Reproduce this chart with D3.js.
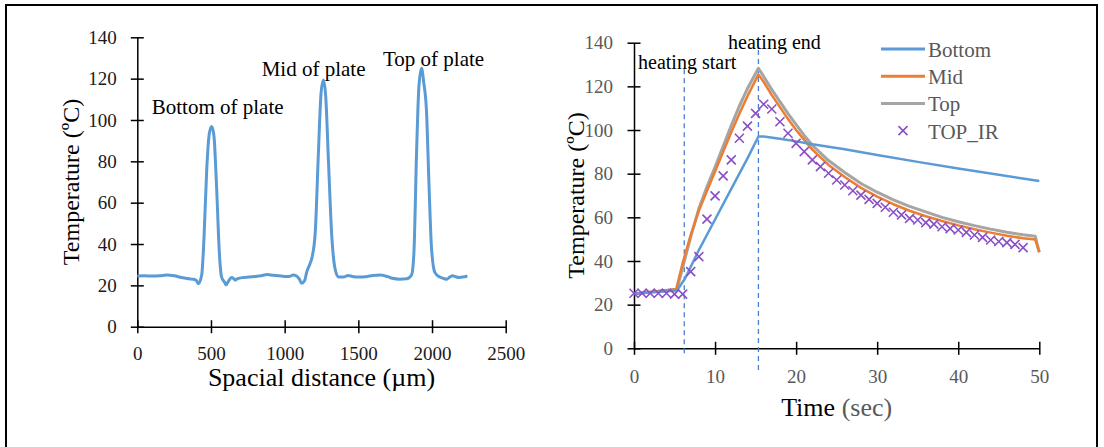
<!DOCTYPE html>
<html>
<head>
<meta charset="utf-8">
<script src="https://cdn.jsdelivr.net/npm/d3@7"></script>
<style>
  html, body { margin: 0; padding: 0; background: #fff; }
  svg { display: block; font-family: "Liberation Serif", "Times New Roman", serif; }
</style>
</head>
<body>
<svg id="chart" width="1104" height="447"></svg>
<script>
// ---- left chart: temperature profile along the plate ----
const profileDist = [0, 50, 100, 150, 200, 250, 300, 350, 380, 400, 414, 437, 453, 471, 489, 505, 520, 538, 557, 572, 590, 602, 620, 640, 655, 665, 680, 720, 760, 800, 850, 880, 920, 960, 1000, 1030, 1058, 1080, 1100, 1115, 1135, 1150, 1172, 1184, 1207, 1229, 1247, 1263, 1279, 1297, 1320, 1342, 1365, 1400, 1430, 1460, 1500, 1550, 1600, 1650, 1700, 1730, 1780, 1830, 1861, 1877, 1895, 1911, 1929, 1944, 1962, 1980, 1996, 2019, 2053, 2080, 2100, 2120, 2140, 2160, 2180, 2210, 2240];
const profileTemp = [24.5, 24.6, 24.5, 24.6, 25.0, 24.6, 23.8, 23.2, 23.0, 22.4, 20.8, 25, 43.5, 75.8, 93.6, 96.8, 92.4, 67.7, 35.5, 24, 21.8, 20.3, 22.2, 23.8, 23.2, 22.5, 23.2, 23.8, 24.0, 24.3, 24.8, 25.2, 24.9, 24.6, 24.3, 24.3, 25.0, 24.5, 23.0, 21.0, 22.2, 26.5, 30.5, 33, 45, 84, 113, 119.3, 111, 80.6, 43.5, 28, 24, 24.0, 24.8, 24.3, 24.0, 24.2, 24.8, 25.0, 24.2, 23.4, 23.0, 23.2, 25, 35.5, 84, 116, 125, 118, 105, 67.7, 38.7, 26.3, 24, 23.3, 23.0, 24.0, 24.6, 24.2, 23.8, 24.0, 24.5];
const leftXTicks = [0, 500, 1000, 1500, 2000, 2500];
const leftYTicks = [0, 20, 40, 60, 80, 100, 120, 140];
const peakLabels = [
  { text: 'Bottom of plate', dist: 98, temp: 102.9 },
  { text: 'Mid of plate', dist: 844, temp: 121.3 },
  { text: 'Top of plate', dist: 1667, temp: 126.1 }
];

// ---- right chart: temperature vs time ----
const bottomSeries = [[0, 25], [5.3, 26.5], [6.3, 32], [8, 45], [10, 59], [12, 73], [14, 87], [15.35, 97], [16, 97], [18, 96], [20, 94.8], [22, 93.5], [26, 91.2], [30, 88.6], [35, 85.4], [40, 82.4], [45, 79.5], [50, 76.6]];
const midSeries = [[0, 25], [5.2, 27], [6, 39], [7, 52], [8, 63], [9, 72], [10, 81], [11, 90], [12, 99], [13, 107.5], [14, 115.5], [15.35, 125.5], [16, 122], [17, 116], [18, 110.5], [19, 105], [20, 100], [21, 95.5], [22, 91], [24, 84], [26, 78.5], [28, 73.5], [30, 69.5], [32, 66], [34, 63], [36, 60.5], [38, 58.3], [40, 56.3], [42, 54.5], [44, 53], [46, 51.6], [48, 50.4], [49.5, 49.8], [50, 44]];
const topSeries = [[0, 25], [5.3, 27], [6, 37], [7, 51], [8, 64], [9, 74], [10, 83], [11, 92.5], [12, 102], [13, 111], [14, 119], [15.35, 128.3], [16, 124.5], [17, 118.5], [18, 113], [19, 107.5], [20, 102.5], [21, 97.5], [22, 93], [24, 86], [26, 80.5], [28, 75.5], [30, 71.5], [32, 68], [34, 65], [36, 62.5], [38, 60], [40, 58], [42, 56.2], [44, 54.6], [46, 53.2], [48, 52], [49.5, 51.3], [50, 44]];
const irTime = d3.range(0, 49);
const irTemp = [25.2, 25.2, 25.2, 25.2, 25.2, 24.8, 24.8, 35.1, 42, 59.2, 69.8, 79, 86.3, 96.2, 101.8, 107.6, 111.8, 109.6, 103.8, 98.5, 93.9, 90.1, 86.3, 83.2, 80.2, 77.1, 74.8, 72.2, 70.2, 68.2, 66.4, 64.6, 62.3, 61.1, 59.5, 58.8, 57.6, 56.9, 55.7, 54.8, 54.2, 53.1, 51.9, 50.8, 49.6, 48.9, 48.4, 47.6, 46.1];
const rightXTicks = [0, 10, 20, 30, 40, 50];
const rightYTicks = [0, 20, 40, 60, 80, 100, 120, 140];
const heatingMarks = [
  { text: 'heating start', t: 6.2, from: -3, to: 127.8, labelT: 0.5, labelY: 128 },
  { text: 'heating end', t: 15.35, from: -10, to: 136.6, labelT: 11.6, labelY: 137 }
];
const legendItems = ['Bottom', 'Mid', 'Top', 'TOP_IR'];

const COLORS = {
  blue: '#5B9BD5',
  orange: '#ED7D31',
  gray: '#A5A5A5',
  purple: '#8a4fc7',
  dash: '#4a7fd0',
  axisText: '#595959'
};

const svg = d3.select('#chart');

// outer frame
svg.append('path')
  .attr('d', 'M6,450 L6,5 L1097,5 L1097,450')
  .attr('fill', 'none')
  .attr('stroke', '#000')
  .attr('stroke-width', 2);

// crossing ticks helper
function styleAxis(g, orient, labelColor, labelOffset) {
  g.select('.domain').attr('stroke', '#000').attr('stroke-width', 1.5);
  g.selectAll('.tick line').attr('stroke', '#000').attr('stroke-width', 1.5);
  if (orient === 'left') {
    g.selectAll('.tick line').attr('x1', 6.5).attr('x2', -6.5);
    g.selectAll('.tick text').attr('x', -labelOffset).attr('dy', '0.33em');
  } else {
    g.selectAll('.tick line').attr('y1', -6.5).attr('y2', 6.5);
    g.selectAll('.tick text').attr('y', labelOffset).attr('dy', 0);
  }
  g.selectAll('.tick text')
    .attr('fill', labelColor)
    .style('font-size', '19px')
    .style('font-family', '"Liberation Serif", "Times New Roman", serif');
}

// ================= LEFT CHART =================
const xL = d3.scaleLinear().domain([0, 2500]).range([137.3, 505.7]);
const yL = d3.scaleLinear().domain([0, 140]).range([326.7, 37.3]);

svg.append('g')
  .attr('transform', `translate(0,${yL(0)})`)
  .call(d3.axisBottom(xL).tickValues(leftXTicks).tickSizeOuter(0).tickFormat(d3.format('d')))
  .call(g => styleAxis(g, 'bottom', '#1a1a1a', 33.5));

svg.append('g')
  .attr('transform', `translate(${xL(0)},0)`)
  .call(d3.axisLeft(yL).tickValues(leftYTicks).tickSizeOuter(0).tickFormat(d3.format('d')))
  .call(g => styleAxis(g, 'left', '#1a1a1a', 20.5));

const profile = profileDist.map((d, i) => [d, profileTemp[i]]);
svg.append('path')
  .datum(profile)
  .attr('fill', 'none')
  .attr('stroke', COLORS.blue)
  .attr('stroke-width', 3)
  .attr('stroke-linejoin', 'round')
  .attr('d', d3.line().x(d => xL(d[0])).y(d => yL(d[1])).curve(d3.curveMonotoneX));

svg.selectAll('.peak-label')
  .data(peakLabels)
  .join('text')
  .attr('class', 'peak-label')
  .attr('x', d => xL(d.dist))
  .attr('y', d => yL(d.temp))
  .attr('fill', '#000')
  .style('font-size', '21px')
  .text(d => d.text);

svg.append('text')
  .attr('transform', `translate(79,${(yL(0) + yL(140)) / 2}) rotate(-90)`)
  .attr('text-anchor', 'middle')
  .attr('fill', '#000')
  .style('font-size', '24px')
  .text('Temperature (ºC)');

svg.append('text')
  .attr('x', (xL(0) + xL(2500)) / 2)
  .attr('y', 386)
  .attr('text-anchor', 'middle')
  .attr('fill', '#000')
  .style('font-size', '26px')
  .text('Spacial distance (µm)');

// ================= RIGHT CHART =================
const xR = d3.scaleLinear().domain([0, 50]).range([634, 1039.3]);
const yR = d3.scaleLinear().domain([0, 140]).range([348.3, 42.7]);

svg.append('g')
  .attr('transform', `translate(0,${yR(0)})`)
  .call(d3.axisBottom(xR).tickValues(rightXTicks).tickSizeOuter(0))
  .call(g => styleAxis(g, 'bottom', COLORS.axisText, 35));

svg.append('g')
  .attr('transform', `translate(${xR(0)},0)`)
  .call(d3.axisLeft(yR).tickValues(rightYTicks).tickSizeOuter(0))
  .call(g => styleAxis(g, 'left', COLORS.axisText, 21));

// heating start / end markers
svg.selectAll('.heat-line')
  .data(heatingMarks)
  .join('line')
  .attr('class', 'heat-line')
  .attr('x1', d => xR(d.t))
  .attr('x2', d => xR(d.t))
  .attr('y1', d => yR(d.to))
  .attr('y2', d => yR(d.from))
  .attr('stroke', COLORS.dash)
  .attr('stroke-width', 1.3)
  .attr('stroke-dasharray', '5,4');

const lineR = d3.line().x(d => xR(d[0])).y(d => yR(d[1]));

const seriesList = [
  { data: bottomSeries, color: COLORS.blue },
  { data: midSeries, color: COLORS.orange },
  { data: topSeries, color: COLORS.gray }
];

// draw top first so orange and blue sit above it, like the original
[seriesList[2], seriesList[1], seriesList[0]].forEach(s => {
  svg.append('path')
    .datum(s.data)
    .attr('fill', 'none')
    .attr('stroke', s.color)
    .attr('stroke-width', s.color === COLORS.gray ? 3 : 2.5)
    .attr('stroke-linejoin', 'round')
    .attr('d', lineR);
});

function crossPath(cx, cy, r) {
  return `M${cx - r},${cy - r}L${cx + r},${cy + r}M${cx - r},${cy + r}L${cx + r},${cy - r}`;
}

svg.append('g')
  .selectAll('path')
  .data(irTime.map((t, i) => [t, irTemp[i]]))
  .join('path')
  .attr('d', d => crossPath(xR(d[0]), yR(d[1]), 4.5))
  .attr('stroke', COLORS.purple)
  .attr('stroke-width', 1.6)
  .attr('fill', 'none');

svg.selectAll('.heat-label')
  .data(heatingMarks)
  .join('text')
  .attr('class', 'heat-label')
  .attr('x', d => xR(d.labelT))
  .attr('y', d => yR(d.labelY))
  .attr('fill', '#000')
  .style('font-size', '20px')
  .text(d => d.text);

// legend
const legendColors = [COLORS.blue, COLORS.orange, COLORS.gray, COLORS.purple];
const legend = svg.append('g').attr('transform', 'translate(880,49)');
legendItems.forEach((name, i) => {
  const row = legend.append('g').attr('transform', `translate(0,${i * 27.2})`);
  if (name === 'TOP_IR') {
    row.append('path')
      .attr('d', crossPath(23, 0, 4.5))
      .attr('stroke', legendColors[i])
      .attr('stroke-width', 1.6)
      .attr('fill', 'none');
  } else {
    row.append('line')
      .attr('x1', 1).attr('x2', 45)
      .attr('stroke', legendColors[i])
      .attr('stroke-width', 3);
  }
  row.append('text')
    .attr('x', 48)
    .attr('y', 8)
    .attr('fill', COLORS.axisText)
    .style('font-size', '21px')
    .text(name);
});

const timeTitle = svg.append('text')
  .attr('x', (xR(0) + xR(50)) / 2)
  .attr('y', 416)
  .attr('text-anchor', 'middle')
  .style('font-size', '26px');
timeTitle.append('tspan').attr('fill', '#000').text('Time ');
timeTitle.append('tspan').attr('fill', COLORS.axisText).text('(sec)');

svg.append('text')
  .attr('transform', `translate(584,${(yR(0) + yR(140)) / 2}) rotate(-90)`)
  .attr('text-anchor', 'middle')
  .attr('fill', '#000')
  .style('font-size', '24px')
  .text('Temperature (ºC)');
</script>
</body>
</html>
